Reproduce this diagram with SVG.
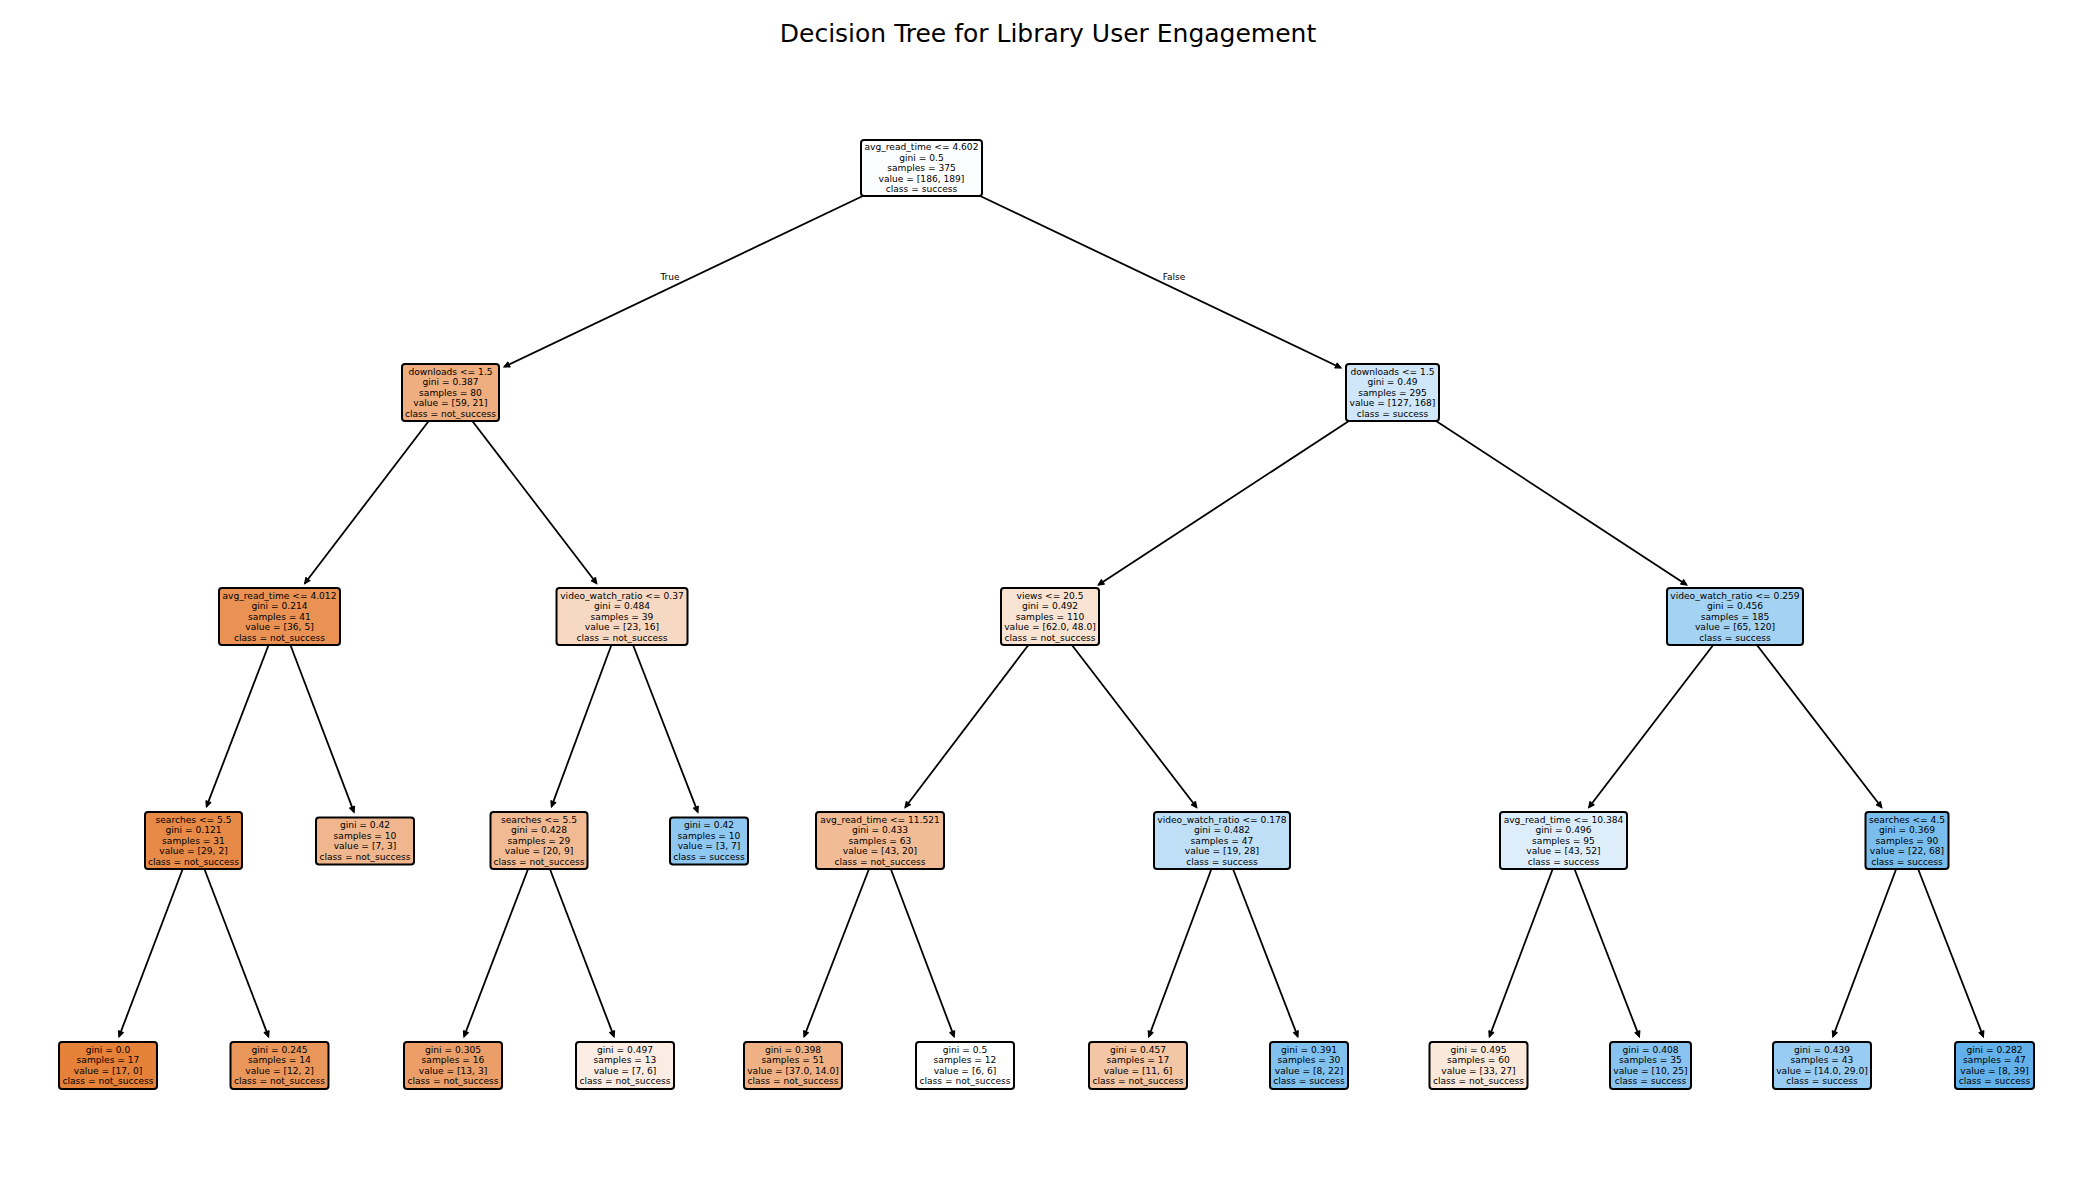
<svg xmlns="http://www.w3.org/2000/svg" width="2100" height="1200" viewBox="0 0 2100 1200">
<defs>
<style>
.bg{fill:#ffffff}
.title{font-family:"DejaVu Sans","Liberation Sans",sans-serif;font-size:25px;text-anchor:middle;fill:#000}
.lbl{font-family:"DejaVu Sans","Liberation Sans",sans-serif;font-size:9px;text-anchor:middle;fill:#000}
.node rect{stroke:#000;stroke-width:2}
.node text{font-family:"DejaVu Sans","Liberation Sans",sans-serif;font-size:9.1px;text-anchor:middle;fill:#000}
.edge{stroke:#000;stroke-width:1.8;fill:none;marker-end:url(#ah)}
</style>
<marker id="ah" markerUnits="userSpaceOnUse" markerWidth="10" markerHeight="10" viewBox="-8 -5 10 10" refX="0" refY="0" orient="auto">
<path d="M-5.5,-2.6 L0,0 L-5.5,2.6" fill="#000" stroke="#000" stroke-width="1.6" stroke-linejoin="miter"/>
</marker>
</defs>
<rect class="bg" x="0" y="0" width="2100" height="1200"/>
<text class="title" x="1048" y="42">Decision Tree for Library User Engagement</text>

<g id="edges">
<line class="edge" x1="862.8" y1="196" x2="504.4" y2="366.8"/>
<line class="edge" x1="980.2" y1="196" x2="1340.6" y2="367.7"/>
<line class="edge" x1="428.75" y1="421" x2="304.9" y2="583.2"/>
<line class="edge" x1="472.3" y1="421" x2="596.5" y2="583.2"/>
<line class="edge" x1="268.6" y1="645" x2="206.6" y2="806.4"/>
<line class="edge" x1="290.4" y1="645" x2="353.9" y2="811.9"/>
<line class="edge" x1="182.7" y1="869" x2="119.1" y2="1036.4"/>
<line class="edge" x1="204.4" y1="869" x2="268.4" y2="1036.4"/>
<line class="edge" x1="611.4" y1="645" x2="551.6" y2="806.4"/>
<line class="edge" x1="633.05" y1="645" x2="697.7" y2="811.9"/>
<line class="edge" x1="528.1" y1="869" x2="464.1" y2="1036.4"/>
<line class="edge" x1="549.9" y1="869" x2="613.9" y2="1036.4"/>
<line class="edge" x1="1348.9" y1="421" x2="1098.6" y2="584.7"/>
<line class="edge" x1="1436.1" y1="421" x2="1686.4" y2="584.7"/>
<line class="edge" x1="1028.4" y1="645" x2="905.3" y2="807.2"/>
<line class="edge" x1="1071.9" y1="645" x2="1196.5" y2="807.2"/>
<line class="edge" x1="869" y1="869" x2="804.2" y2="1036.4"/>
<line class="edge" x1="890.8" y1="869" x2="954" y2="1036.4"/>
<line class="edge" x1="1211.4" y1="869" x2="1148.9" y2="1036.4"/>
<line class="edge" x1="1233" y1="869" x2="1297.7" y2="1036.4"/>
<line class="edge" x1="1713.2" y1="645" x2="1589" y2="807.2"/>
<line class="edge" x1="1756.9" y1="645" x2="1881.5" y2="807.2"/>
<line class="edge" x1="1552.7" y1="869" x2="1489.5" y2="1036.4"/>
<line class="edge" x1="1574.5" y1="869" x2="1639.2" y2="1036.4"/>
<line class="edge" x1="1896.2" y1="869" x2="1833" y2="1036.4"/>
<line class="edge" x1="1918.1" y1="869" x2="1983.2" y2="1036.4"/>
<text class="lbl" x="670" y="280">True</text>
<text class="lbl" x="1174" y="280">False</text>
</g>

<g id="n0" class="node"><rect x="861" y="140" width="121" height="56" rx="3" fill="#fcfdff"/>
<text x="921.5" y="150">avg_read_time &lt;= 4.602</text><text x="921.5" y="160.5">gini = 0.5</text><text x="921.5" y="171">samples = 375</text><text x="921.5" y="181.5">value = [186, 189]</text><text x="921.5" y="192">class = success</text></g>

<g id="n1" class="node"><rect x="402" y="364" width="97" height="57" rx="3" fill="#eeae7f"/>
<text x="450.5" y="374.5">downloads &lt;= 1.5</text><text x="450.5" y="385">gini = 0.387</text><text x="450.5" y="395.5">samples = 80</text><text x="450.5" y="406">value = [59, 21]</text><text x="450.5" y="416.5">class = not_success</text></g>

<g id="n12" class="node"><rect x="1346" y="364" width="93" height="57" rx="3" fill="#cfe7f9"/>
<text x="1392.5" y="374.5">downloads &lt;= 1.5</text><text x="1392.5" y="385">gini = 0.49</text><text x="1392.5" y="395.5">samples = 295</text><text x="1392.5" y="406">value = [127, 168]</text><text x="1392.5" y="416.5">class = success</text></g>

<g id="n2" class="node"><rect x="219" y="588" width="121" height="57" rx="3" fill="#e99254"/>
<text x="279.5" y="598.5">avg_read_time &lt;= 4.012</text><text x="279.5" y="609">gini = 0.214</text><text x="279.5" y="619.5">samples = 41</text><text x="279.5" y="630">value = [36, 5]</text><text x="279.5" y="640.5">class = not_success</text></g>

<g id="n7" class="node"><rect x="556.5" y="588" width="131" height="57" rx="3" fill="#f7d9c3"/>
<text x="622" y="598.5">video_watch_ratio &lt;= 0.37</text><text x="622" y="609">gini = 0.484</text><text x="622" y="619.5">samples = 39</text><text x="622" y="630">value = [23, 16]</text><text x="622" y="640.5">class = not_success</text></g>

<g id="n13" class="node"><rect x="1001" y="588" width="98" height="57" rx="3" fill="#f9e3d2"/>
<text x="1050" y="598.5">views &lt;= 20.5</text><text x="1050" y="609">gini = 0.492</text><text x="1050" y="619.5">samples = 110</text><text x="1050" y="630">value = [62.0, 48.0]</text><text x="1050" y="640.5">class = not_success</text></g>

<g id="n20" class="node"><rect x="1667" y="588" width="136" height="57" rx="3" fill="#a4d2f3"/>
<text x="1735" y="598.5">video_watch_ratio &lt;= 0.259</text><text x="1735" y="609">gini = 0.456</text><text x="1735" y="619.5">samples = 185</text><text x="1735" y="630">value = [65, 120]</text><text x="1735" y="640.5">class = success</text></g>

<g id="n3" class="node"><rect x="145" y="812" width="97" height="57" rx="3" fill="#e78a47"/>
<text x="193.5" y="822.5">searches &lt;= 5.5</text><text x="193.5" y="833">gini = 0.121</text><text x="193.5" y="843.5">samples = 31</text><text x="193.5" y="854">value = [29, 2]</text><text x="193.5" y="864.5">class = not_success</text></g>

<g id="n6" class="node"><rect x="316" y="817.5" width="98" height="47" rx="3" fill="#f0b78e"/>
<text x="365" y="828.25">gini = 0.42</text><text x="365" y="838.75">samples = 10</text><text x="365" y="849.25">value = [7, 3]</text><text x="365" y="859.75">class = not_success</text></g>

<g id="n8" class="node"><rect x="490.5" y="812" width="97" height="57" rx="3" fill="#f1ba92"/>
<text x="539" y="822.5">searches &lt;= 5.5</text><text x="539" y="833">gini = 0.428</text><text x="539" y="843.5">samples = 29</text><text x="539" y="854">value = [20, 9]</text><text x="539" y="864.5">class = not_success</text></g>

<g id="n11" class="node"><rect x="670" y="817.5" width="78" height="47" rx="3" fill="#8ec7f0"/>
<text x="709" y="828.25">gini = 0.42</text><text x="709" y="838.75">samples = 10</text><text x="709" y="849.25">value = [3, 7]</text><text x="709" y="859.75">class = success</text></g>

<g id="n14" class="node"><rect x="816" y="812" width="128" height="57" rx="3" fill="#f1bc95"/>
<text x="880" y="822.5">avg_read_time &lt;= 11.521</text><text x="880" y="833">gini = 0.433</text><text x="880" y="843.5">samples = 63</text><text x="880" y="854">value = [43, 20]</text><text x="880" y="864.5">class = not_success</text></g>

<g id="n17" class="node"><rect x="1154" y="812" width="136" height="57" rx="3" fill="#bfdff7"/>
<text x="1222" y="822.5">video_watch_ratio &lt;= 0.178</text><text x="1222" y="833">gini = 0.482</text><text x="1222" y="843.5">samples = 47</text><text x="1222" y="854">value = [19, 28]</text><text x="1222" y="864.5">class = success</text></g>

<g id="n21" class="node"><rect x="1500" y="812" width="127" height="57" rx="3" fill="#ddeefa"/>
<text x="1563.5" y="822.5">avg_read_time &lt;= 10.384</text><text x="1563.5" y="833">gini = 0.496</text><text x="1563.5" y="843.5">samples = 95</text><text x="1563.5" y="854">value = [43, 52]</text><text x="1563.5" y="864.5">class = success</text></g>

<g id="n24" class="node"><rect x="1865.5" y="812" width="83" height="57" rx="3" fill="#79bded"/>
<text x="1907" y="822.5">searches &lt;= 4.5</text><text x="1907" y="833">gini = 0.369</text><text x="1907" y="843.5">samples = 90</text><text x="1907" y="854">value = [22, 68]</text><text x="1907" y="864.5">class = success</text></g>

<g id="n4" class="node"><rect x="59" y="1042" width="98" height="47" rx="3" fill="#e58139"/>
<text x="108" y="1052.75">gini = 0.0</text><text x="108" y="1063.25">samples = 17</text><text x="108" y="1073.75">value = [17, 0]</text><text x="108" y="1084.25">class = not_success</text></g>

<g id="n5" class="node"><rect x="230.5" y="1042" width="98" height="47" rx="3" fill="#e9965a"/>
<text x="279.5" y="1052.75">gini = 0.245</text><text x="279.5" y="1063.25">samples = 14</text><text x="279.5" y="1073.75">value = [12, 2]</text><text x="279.5" y="1084.25">class = not_success</text></g>

<g id="n9" class="node"><rect x="404" y="1042" width="98" height="47" rx="3" fill="#eb9e67"/>
<text x="453" y="1052.75">gini = 0.305</text><text x="453" y="1063.25">samples = 16</text><text x="453" y="1073.75">value = [13, 3]</text><text x="453" y="1084.25">class = not_success</text></g>

<g id="n10" class="node"><rect x="576" y="1042" width="98" height="47" rx="3" fill="#fbede3"/>
<text x="625" y="1052.75">gini = 0.497</text><text x="625" y="1063.25">samples = 13</text><text x="625" y="1073.75">value = [7, 6]</text><text x="625" y="1084.25">class = not_success</text></g>

<g id="n15" class="node"><rect x="744" y="1042" width="98" height="47" rx="3" fill="#efb184"/>
<text x="793" y="1052.75">gini = 0.398</text><text x="793" y="1063.25">samples = 51</text><text x="793" y="1073.75">value = [37.0, 14.0]</text><text x="793" y="1084.25">class = not_success</text></g>

<g id="n16" class="node"><rect x="916" y="1042" width="98" height="47" rx="3" fill="#ffffff"/>
<text x="965" y="1052.75">gini = 0.5</text><text x="965" y="1063.25">samples = 12</text><text x="965" y="1073.75">value = [6, 6]</text><text x="965" y="1084.25">class = not_success</text></g>

<g id="n18" class="node"><rect x="1089" y="1042" width="98" height="47" rx="3" fill="#f3c6a5"/>
<text x="1138" y="1052.75">gini = 0.457</text><text x="1138" y="1063.25">samples = 17</text><text x="1138" y="1073.75">value = [11, 6]</text><text x="1138" y="1084.25">class = not_success</text></g>

<g id="n19" class="node"><rect x="1270" y="1042" width="78" height="47" rx="3" fill="#81c1ee"/>
<text x="1309" y="1052.75">gini = 0.391</text><text x="1309" y="1063.25">samples = 30</text><text x="1309" y="1073.75">value = [8, 22]</text><text x="1309" y="1084.25">class = success</text></g>

<g id="n22" class="node"><rect x="1429.5" y="1042" width="98" height="47" rx="3" fill="#fae8db"/>
<text x="1478.5" y="1052.75">gini = 0.495</text><text x="1478.5" y="1063.25">samples = 60</text><text x="1478.5" y="1073.75">value = [33, 27]</text><text x="1478.5" y="1084.25">class = not_success</text></g>

<g id="n23" class="node"><rect x="1610" y="1042" width="81" height="47" rx="3" fill="#88c4ef"/>
<text x="1650.5" y="1052.75">gini = 0.408</text><text x="1650.5" y="1063.25">samples = 35</text><text x="1650.5" y="1073.75">value = [10, 25]</text><text x="1650.5" y="1084.25">class = success</text></g>

<g id="n25" class="node"><rect x="1773" y="1042" width="98" height="47" rx="3" fill="#99ccf2"/>
<text x="1822" y="1052.75">gini = 0.439</text><text x="1822" y="1063.25">samples = 43</text><text x="1822" y="1073.75">value = [14.0, 29.0]</text><text x="1822" y="1084.25">class = success</text></g>

<g id="n26" class="node"><rect x="1955" y="1042" width="79" height="47" rx="3" fill="#62b1ea"/>
<text x="1994.5" y="1052.75">gini = 0.282</text><text x="1994.5" y="1063.25">samples = 47</text><text x="1994.5" y="1073.75">value = [8, 39]</text><text x="1994.5" y="1084.25">class = success</text></g>
</svg>
